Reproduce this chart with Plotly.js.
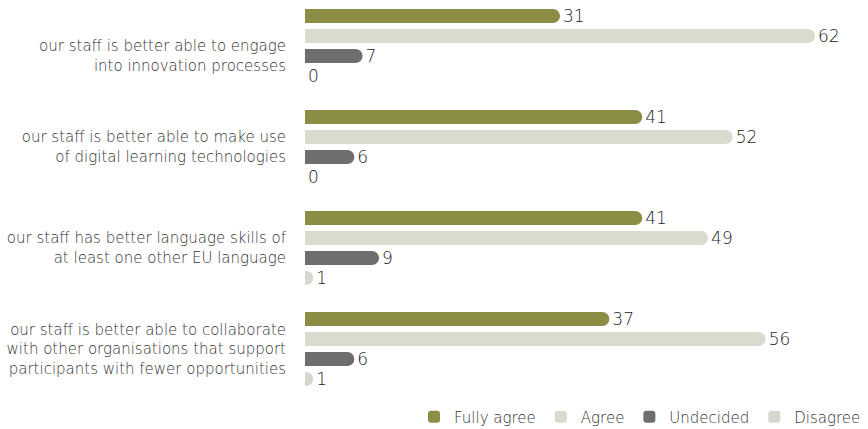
<!DOCTYPE html>
<html><head><meta charset="utf-8">
<script src="https://cdn.plot.ly/plotly-3.0.1.min.js"></script>
<style>html,body{margin:0;padding:0;background:#fff}</style>
</head><body>
<div id="chart" style="width:868px;height:429px"></div>
<script>
const categories = [
  "<br>our staff is better able to engage<br>into innovation processes",
  "our staff is better able to make use<br>of digital learning technologies",
  "our staff has better language skills of<br>at least one other EU language",
  "our staff is better able to collaborate<br>with other organisations that support<br>participants with fewer opportunities"
];
const fullyAgree = [31, 41, 41, 37];
const agree = [62, 52, 49, 56];
const undecided = [7, 6, 9, 6];
const disagree = [0, 0, 1, 1];
const seriesNames = ["Fully agree", "Agree", "Undecided", "Disagree"];
const colors = ["#8c8d45", "#d9dbcf", "#6e6e6e", "#d6d8cf"];
const seriesValues = [fullyAgree, agree, undecided, disagree];

const FONT = "DejaVu Sans, Open Sans, sans-serif";
const traces = seriesValues.map((vals, i) => ({
  type: "bar",
  orientation: "h",
  name: seriesNames[i],
  y: categories,
  x: vals,
  text: vals.map(String),
  textposition: "outside",
  constraintext: "none",
  cliponaxis: false,
  textfont: {family: FONT, size: 17, color: "#222", weight: 200},
  marker: {color: colors[i], cornerradius: 7},
  hoverinfo: "x+name"
}));

const layout = {
  width: 868, height: 429,
  margin: {l: 305, r: 2, t: 0, b: 0, autoexpand: false},
  barmode: "group",
  bargap: 0.208,
  bargroupgap: 0.3,
  paper_bgcolor: "#fff",
  plot_bgcolor: "#fff",
  font: {family: FONT, color: "#333", weight: 200},
  xaxis: {range: [0, 68.2], visible: false, showgrid: false, zeroline: false, fixedrange: true},
  yaxis: {
    range: [3.792, -0.455],
    showgrid: false, zeroline: false, showline: false,
    ticks: "", ticklen: 0,
    ticklabelstandoff: 18,
    tickfont: {family: FONT, size: 15, color: "#333", weight: 200},
    automargin: false
  },
  showlegend: true,
  legend: {
    orientation: "h",
    x: 1, xanchor: "right",
    y: 0.028, yanchor: "middle",
    bgcolor: "rgba(0,0,0,0)",
    font: {family: FONT, size: 15, color: "#333", weight: 200},
    traceorder: "normal",
    itemwidth: 30
  }
};
Plotly.newPlot("chart", traces, layout, {displayModeBar: false, staticPlot: true});
</script>
</body></html>
